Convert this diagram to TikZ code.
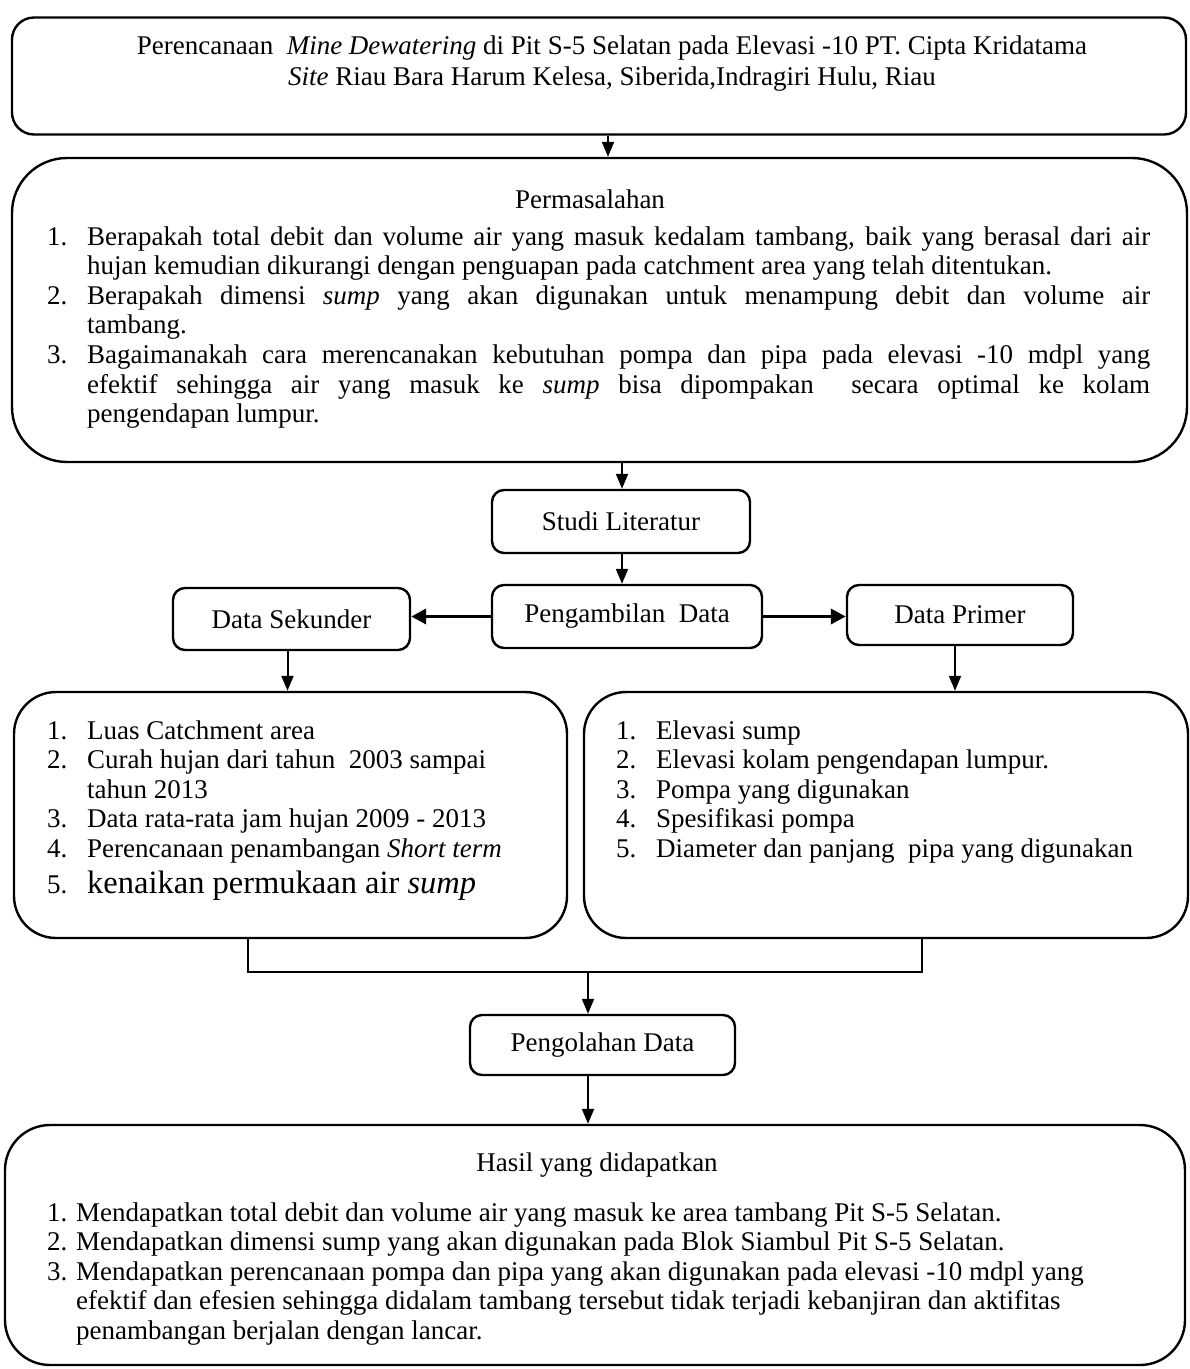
\documentclass[tikz,border=0pt]{standalone}
\usepackage{fontspec}
\setmainfont{Liberation Serif}
\usetikzlibrary{arrows.meta}
\newcommand{\nm}[2][40pt]{\makebox[#1][l]{#2}}
\begin{document}
\begin{tikzpicture}[x=1pt,y=-1pt,
  bigbox/.style={draw, line width=2.4pt, inner sep=0pt, rounded corners=#1},
  smallbox/.style={draw, line width=2.4pt, inner sep=0pt, rounded corners=12pt,
    font=\fontsize{27}{30}\selectfont},
  txt/.style={inner sep=0pt, font=\fontsize{27}{29.6}\selectfont},
  conn/.style={line width=2pt},
  arr/.style={line width=2pt, -{Triangle[length=15pt,width=12pt]}},
  harr/.style={line width=3.6pt, -{Triangle[length=15pt,width=15pt]}}
]
\useasboundingbox (0,0) rectangle (1190,1369);

% boxes
\node[bigbox=22pt, minimum width=1174pt, minimum height=117pt] (b1) at (599,76) {};
\node[bigbox=55pt, minimum width=1175pt, minimum height=304pt] (b2) at (599.5,310) {};
\node[smallbox, minimum width=258pt, minimum height=63pt] (studi) at (621,521.5) {Studi Literatur};
\node[smallbox, minimum width=270pt, minimum height=63pt] (ambil) at (627,616.5) {Pengambilan\ \ Data};
\node[smallbox, minimum width=237pt, minimum height=62pt] (sek) at (291.5,619) {Data Sekunder};
\node[smallbox, minimum width=226pt, minimum height=60pt] (prim) at (960,615) {Data Primer};
\node[bigbox=42pt, minimum width=553pt, minimum height=246pt] (lbox) at (290.5,815) {};
\node[bigbox=42pt, minimum width=604pt, minimum height=246pt] (rbox) at (886,815) {};
\node[smallbox, minimum width=265pt, minimum height=60pt] (olah) at (602.5,1045) {Pengolahan Data};
\node[bigbox=45pt, minimum width=1180pt, minimum height=240pt] (b5) at (595,1245) {};

% texts
\node[txt, anchor=base] (t1) at (612,54) {\begin{tabular}[t]{@{}c@{}}
Perencanaan\enspace\textit{Mine Dewatering} di Pit S-5 Selatan pada Elevasi -10 PT. Cipta Kridatama\\[2pt]
\textit{Site} Riau Bara Harum Kelesa, Siberida,Indragiri Hulu, Riau
\end{tabular}};

\node[txt, anchor=base] (t2h) at (590,208) {Permasalahan};
\node[txt, anchor=base west] (t2) at (47,245) {\begin{tabular}[t]{@{}l@{}l@{}}
\nm{1.} & \makebox[1063pt][s]{Berapakah total debit dan volume air yang masuk kedalam tambang, baik yang berasal dari air}\\
 & hujan kemudian dikurangi dengan penguapan pada catchment area yang telah ditentukan.\\
\nm{2.} & \makebox[1063pt][s]{Berapakah dimensi \textit{sump} yang akan digunakan untuk menampung debit dan volume air}\\
 & tambang.\\
\nm{3.} & \makebox[1063pt][s]{Bagaimanakah cara merencanakan kebutuhan pompa dan pipa pada elevasi -10 mdpl yang}\\
 & \makebox[1063pt][s]{efektif sehingga air yang masuk ke \textit{sump} bisa dipompakan\ \ secara optimal ke kolam}\\
 & pengendapan lumpur.
\end{tabular}};

\node[txt, anchor=base west] (t3) at (47,739) {\begin{tabular}[t]{@{}l@{}l@{}}
\nm{1.} & Luas Catchment area\\
\nm{2.} & Curah hujan dari tahun\ \ 2003 sampai\\
 & tahun 2013\\
\nm{3.} & Data rata-rata jam hujan 2009 - 2013\\
\nm{4.} & Perencanaan penambangan \textit{Short term}\\[5pt]
\nm{5.} & {\fontsize{32.5}{36}\selectfont kenaikan permukaan air \textit{sump}}
\end{tabular}};

\node[txt, anchor=base west] (t4) at (616,739) {\begin{tabular}[t]{@{}l@{}l@{}}
\nm{1.} & Elevasi sump\\
\nm{2.} & Elevasi kolam pengendapan lumpur.\\
\nm{3.} & Pompa yang digunakan\\
\nm{4.} & Spesifikasi pompa\\
\nm{5.} & Diameter dan panjang\ \ pipa yang digunakan
\end{tabular}};

\node[txt, anchor=base] (t5h) at (597,1171) {Hasil yang didapatkan};
\node[txt, anchor=base west] (t5) at (47,1221) {\begin{tabular}[t]{@{}l@{}l@{}}
\nm[29pt]{1.} & Mendapatkan total debit dan volume air yang masuk ke area tambang Pit S-5 Selatan.\\
\nm[29pt]{2.} & Mendapatkan dimensi sump yang akan digunakan pada Blok Siambul Pit S-5 Selatan.\\
\nm[29pt]{3.} & Mendapatkan perencanaan pompa dan pipa yang akan digunakan pada elevasi -10 mdpl yang\\
 & efektif dan efesien sehingga didalam tambang tersebut tidak terjadi kebanjiran dan aktifitas\\
 & penambangan berjalan dengan lancar.
\end{tabular}};

% connector helpers
\coordinate (c1) at (608,0);
\coordinate (c2) at (622,0);
\coordinate (cl) at (248,972);
\coordinate (cr) at (922,972);
\coordinate (c3) at (588,972);

% connectors
\draw[arr] (c1 |- b1.south) -- (c1 |- b2.north);
\draw[arr] (c2 |- b2.south) -- (c2 |- studi.north);
\draw[arr] (c2 |- studi.south) -- (c2 |- ambil.north);
\draw[harr] (ambil.west) -- (ambil.west -| sek.east);
\draw[harr] (ambil.east) -- (ambil.east -| prim.west);
\draw[arr] ([xshift=-4pt]sek.south) -- ([xshift=-4pt]sek.south |- lbox.north);
\draw[arr] ([xshift=-5pt]prim.south) -- ([xshift=-5pt]prim.south |- rbox.north);
\draw[conn] (cl |- lbox.south) -- (cl) -- (cr) -- (cr |- rbox.south);
\draw[arr] (c3) -- (c3 |- olah.north);
\draw[arr] (c3 |- olah.south) -- (c3 |- b5.north);
\end{tikzpicture}
\end{document}
